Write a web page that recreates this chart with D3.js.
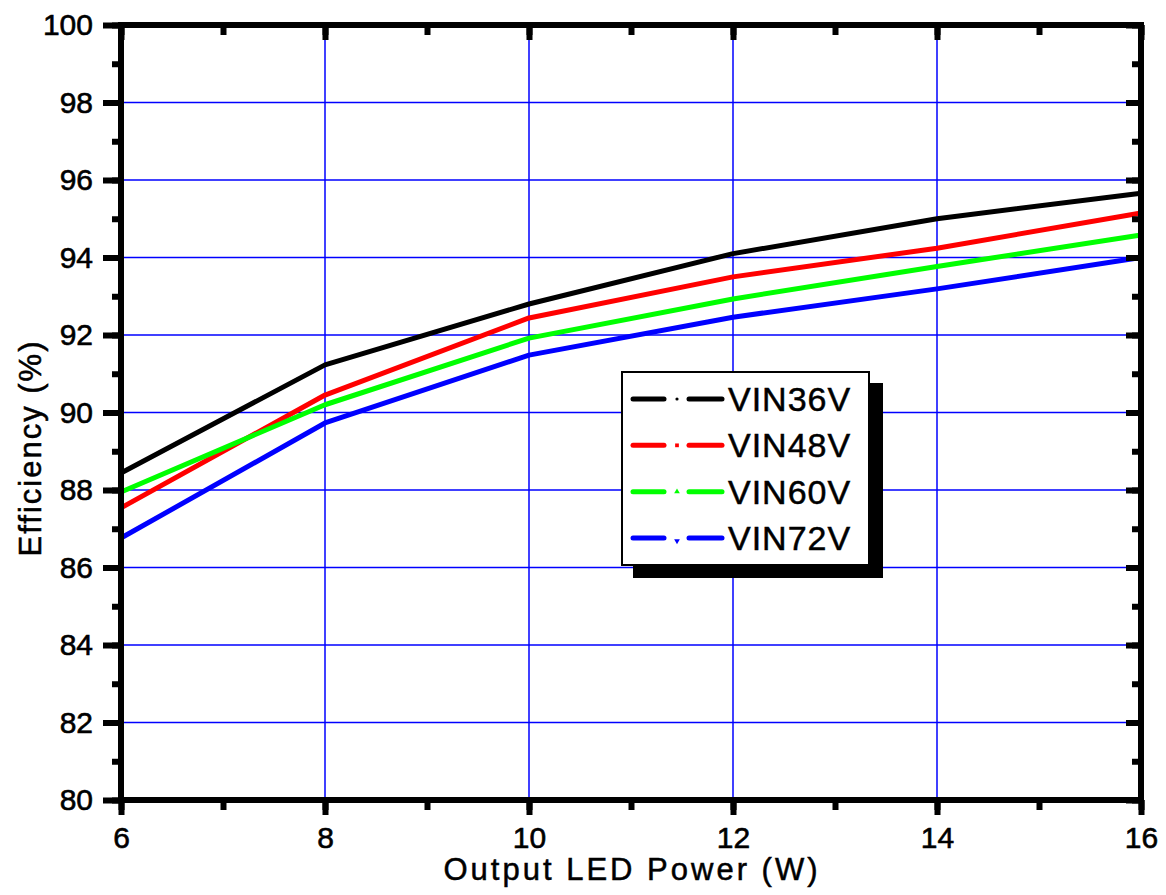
<!DOCTYPE html>
<html><head><meta charset="utf-8">
<script src="https://cdn.jsdelivr.net/npm/d3@7"></script>
<style>body{margin:0;background:#fff}svg{display:block}text{font-family:"Liberation Sans",Arial,sans-serif}</style>
</head><body>
<svg id="c" width="1166" height="895"></svg>
<script>
const powerW = [6, 8, 10, 12, 14, 16];
const seriesNames = ["VIN36V", "VIN48V", "VIN60V", "VIN72V"];
const vin36 = [88.44, 91.23, 92.80, 94.10, 95.00, 95.66];
const vin48 = [87.54, 90.45, 92.44, 93.50, 94.24, 95.15];
const vin60 = [87.95, 90.20, 91.92, 92.93, 93.77, 94.58];
const vin72 = [86.76, 89.73, 91.48, 92.46, 93.19, 94.00];
const xTicks = [6, 8, 10, 12, 14, 16];
const yTicks = [80, 82, 84, 86, 88, 90, 92, 94, 96, 98, 100];
const colors = ["#000000", "#ff0000", "#00ff00", "#0000ff"];
const allSeries = [vin36, vin48, vin60, vin72];

const svg = d3.select("#c");
const L = 121, R = 1141, T = 25, B = 800;
const x = d3.scaleLinear().domain([6, 16]).range([L, R]);
const y = d3.scaleLinear().domain([80, 100]).range([B, T]);

// grid
const g = svg.append("g");
g.selectAll(".gx").data(xTicks.slice(1, -1)).join("line")
  .attr("x1", d => x(d)).attr("x2", d => x(d)).attr("y1", T).attr("y2", B)
  .attr("stroke", "#0000ff").attr("stroke-width", 1.5);
g.selectAll(".gy").data(yTicks.slice(1, -1)).join("line")
  .attr("x1", L).attr("x2", R).attr("y1", d => y(d)).attr("y2", d => y(d))
  .attr("stroke", "#0000ff").attr("stroke-width", 1.5);

// data lines
const line = d3.line().x((d, i) => x(powerW[i])).y(d => y(d));
allSeries.forEach((s, k) => {
  svg.append("path").datum(s).attr("d", line).attr("fill", "none")
    .attr("stroke", colors[k]).attr("stroke-width", 5).attr("stroke-linejoin", "round");
});

// axes
const fmt = d3.format("d");
const minorX = d3.range(6, 16.01, 1);
const minorY = d3.range(80, 100.01, 1);
const axB = svg.append("g").attr("transform", `translate(0,${B})`)
  .call(d3.axisBottom(x).tickValues(minorX).tickSize(10).tickFormat(""));
const axB2 = svg.append("g").attr("transform", `translate(0,${B})`)
  .call(d3.axisBottom(x).tickValues(xTicks).tickSize(15).tickPadding(12).tickFormat(fmt));
const axL = svg.append("g").attr("transform", `translate(${L},0)`)
  .call(d3.axisLeft(y).tickValues(minorY).tickSize(9).tickFormat(""));
const axL2 = svg.append("g").attr("transform", `translate(${L},0)`)
  .call(d3.axisLeft(y).tickValues(yTicks).tickSize(18).tickPadding(10).tickFormat(fmt));
const axT = svg.append("g").attr("transform", `translate(0,${T})`)
  .call(d3.axisBottom(x).tickValues(minorX).tickSize(10).tickFormat(""));
const axT2 = svg.append("g").attr("transform", `translate(0,${T})`)
  .call(d3.axisBottom(x).tickValues(xTicks).tickSize(15).tickFormat(""));
const axRt = svg.append("g").attr("transform", `translate(${R},0)`)
  .call(d3.axisLeft(y).tickValues(minorY).tickSize(9).tickFormat(""));
const axRt2 = svg.append("g").attr("transform", `translate(${R},0)`)
  .call(d3.axisLeft(y).tickValues(yTicks).tickSize(15).tickFormat(""));
[axB, axB2, axL, axL2, axT, axT2, axRt, axRt2].forEach(a => {
  a.select(".domain").remove();
  a.selectAll(".tick line").attr("stroke", "#000").attr("stroke-width", 6);
  a.selectAll("text").attr("fill", "#000").attr("stroke", "#000").attr("stroke-width", 0.6)
    .style("font-size", "30px");
});
// frame
svg.append("rect").attr("x", L).attr("y", T).attr("width", R - L).attr("height", B - T)
  .attr("fill", "none").attr("stroke", "#000").attr("stroke-width", 6);

// titles
svg.append("text").attr("x", 632).attr("y", 880).attr("text-anchor", "middle")
  .attr("stroke", "#000").attr("stroke-width", 0.5)
  .style("font-size", "31px").style("letter-spacing", "3px").text("Output LED Power (W)");
svg.append("text").attr("transform", "translate(41,448) rotate(-90)").attr("text-anchor", "middle")
  .attr("stroke", "#000").attr("stroke-width", 0.5)
  .style("font-size", "31px").style("letter-spacing", "2px").text("Efficiency (%)");

// legend
const lg = svg.append("g");
lg.append("rect").attr("x", 633).attr("y", 383).attr("width", 250).attr("height", 195).attr("fill", "#000");
lg.append("rect").attr("x", 622).attr("y", 372).attr("width", 247).attr("height", 193)
  .attr("fill", "#fff").attr("stroke", "#000").attr("stroke-width", 2);
const rowY = d3.scaleLinear().domain([0, 3]).range([399, 538]);
seriesNames.forEach((n, k) => {
  const yy = rowY(k);
  lg.append("line").attr("x1", 633).attr("x2", 664).attr("y1", yy).attr("y2", yy)
    .attr("stroke", colors[k]).attr("stroke-width", 5).attr("stroke-linecap", "round");
  lg.append("line").attr("x1", 689).attr("x2", 722).attr("y1", yy).attr("y2", yy)
    .attr("stroke", colors[k]).attr("stroke-width", 5).attr("stroke-linecap", "round");
  const sym = [d3.symbolCircle, d3.symbolSquare, d3.symbolTriangle, d3.symbolTriangle][k];
  lg.append("path").attr("d", d3.symbol().type(sym).size(k === 0 ? 8 : 14)())
    .attr("transform", `translate(677,${yy + (k === 3 ? 3 : 0)}) rotate(${k === 3 ? 180 : 0})`)
    .attr("fill", colors[k]);
  lg.append("text").attr("x", 728).attr("y", yy + 12).style("font-size", "34px")
    .attr("stroke", "#000").attr("stroke-width", 0.5)
    .style("letter-spacing", "1px").attr("fill", "#000").text(n);
});
</script>
</body></html>
